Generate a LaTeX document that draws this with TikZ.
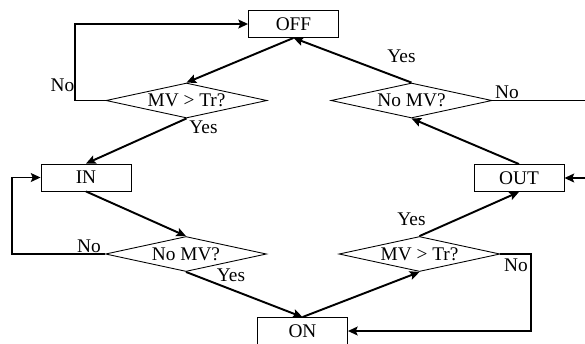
\documentclass[tikz,border=0pt]{standalone}
\usepackage{fontspec}
\setmainfont{Liberation Serif}
\usetikzlibrary{shapes.geometric,arrows.meta}
\begin{document}
\begin{tikzpicture}[x=0.02cm,y=-0.02cm,
  state/.style={draw,rectangle,line width=.5pt,minimum width=1.8cm,minimum height=0.54cm,inner sep=0pt},
  test/.style={draw,diamond,line width=.5pt,aspect=4.6,minimum width=3.22cm,minimum height=0.7cm,inner sep=0pt},
  flow/.style={draw,line width=1.1pt,-{Stealth[length=5.5pt,width=5pt,inset=1pt]}}]
\useasboundingbox (0,0) rectangle (585,343);
\fontsize{11}{13}\selectfont
\node[state] (off) at (293.5,24){OFF};\node[state] (in) at (86,177.5){IN};
\node[state] (out) at (519,178){OUT};\node[state] (on) at (302.5,331){ON};

\node[test] (d1) at (186.5,100.5){MV > Tr?};\node[test] (d2) at (411.5,100.5){No MV?};
\node[test] (d3) at (186,254){No MV?};\node[test] (d4) at (419.5,254){MV > Tr?};

\node (no1) at (62.5,85){No};\node (yes1) at (203.5,127){Yes};
\node (yes2) at (401.5,56){Yes};\node (no2) at (507,92){No};
\node (no3) at (89,246){No};\node (yes3) at (231,275){Yes};
\node (yes4) at (411.5,219){Yes};\node (no4) at (516,265){No};

\path[flow] (off.south) -- (d1.north);
\path[flow] (d2.north) -- (off.south);
\path[flow] (d1.west) -- ++(-30.5,0) |- (off.west);
\path[flow] (d1.south) -- (in.north);
\path[flow] (in.south) -- (d3.north);
\path[flow] (d3.west) -- ++(-93.5,0) |- (in.west);
\path[flow] (d3.south) -- (on.north);
\path[flow] (on.north) -- (d4.south);
\path[flow] (d4.north) -- (out.south);
\path[flow] (d4.east) -- ++(31,0) |- (on.east);
\path[flow] (out.north) -- (d2.south);
\path[flow] (d2.east) -- ++(100,0) |- (out.east);
\end{tikzpicture}
\end{document}
